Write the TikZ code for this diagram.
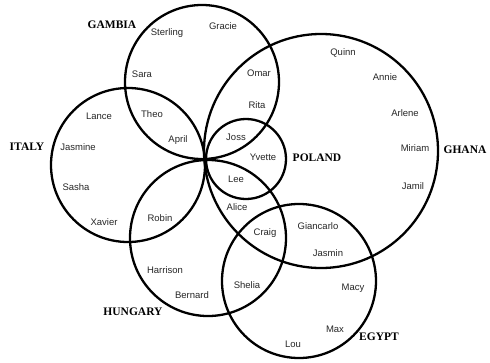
\documentclass[tikz,border=0pt]{standalone}
\usepackage{fontspec}
\setmainfont{Liberation Sans}
\newfontfamily\landfont{Liberation Serif}
\usetikzlibrary{positioning}

\tikzset{
  ring/.style={draw=black, line width=2.3pt},
  person/.style={inner sep=0pt, text=black!85, font=\fontsize{9.5}{11}\selectfont},
  land/.style={inner sep=0pt, font=\landfont\bfseries\fontsize{11.5}{13}\selectfont}
}

\begin{document}
\begin{tikzpicture}[x=1pt,y=-1pt]
\useasboundingbox (0,0) rectangle (490,362);
% circle centres
\coordinate (gambia) at (202,82);
\coordinate (italy) at (128,165);
\coordinate (hungary) at (208,238);
\coordinate (poland) at (246,159);
\coordinate (ghana) at (321,151);
\coordinate (egypt) at (299,281);
\draw[ring] (gambia) circle[radius=77pt];
\draw[ring] (italy) circle[radius=77pt];
\draw[ring] (hungary) circle[radius=78pt];
\draw[ring] (poland) circle[radius=40pt];
\draw[ring] (ghana) circle[radius=117pt];
\draw[ring] (egypt) circle[radius=77pt];
% countries
\node[land] (lgambia) at (112,25) {GAMBIA};
\node[land] (litaly) at (27,147) {ITALY};
\node[land] (lhungary) at (133,312) {HUNGARY};
\node[land] (lpoland) at (317,158) {POLAND};
\node[land] (lghana) at (465,150) {GHANA};
\node[land] (legypt) at (379,337) {EGYPT};
% people
\node[person] (sterling) at (167,33) {Sterling};
\node[person] (gracie) at (223,26) {Gracie};
\node[person] (sara) at (142,74) {Sara};
\node[person] (omar) at (259,73) {Omar};
\node[person] (rita) at (257,105) {Rita};
\node[person] (theo) at (152,114) {Theo};
\node[person] (april) at (178,140) {April};
\node[person] (lance) at (99,116) {Lance};
\node[person] (jasmine) at (78,147) {Jasmine};
\node[person] (sasha) at (76,187) {Sasha};
\node[person] (xavier) at (104,222) {Xavier};
\node[person] (robin) at (160,218) {Robin};
\node[person] (harrison) at (165,270) {Harrison};
\node[person] (bernard) at (192,295) {Bernard};
\node[person] (joss) at (236,137) {Joss};
\node[person] (yvette) at (263,157) {Yvette};
\node[person] (lee) at (236,179) {Lee};
\node[person] (alice) at (237,207) {Alice};
\node[person] (craig) at (265,233) {Craig};
\node[person] (giancarlo) at (318,226) {Giancarlo};
\node[person] (jasmin) at (328,253) {Jasmin};
\node[person] (shelia) at (247,285) {Shelia};
\node[person] (macy) at (353,288) {Macy};
\node[person] (max) at (335,329) {Max};
\node[person] (lou) at (293,344) {Lou};
\node[person] (quinn) at (343,53) {Quinn};
\node[person] (annie) at (385,77) {Annie};
\node[person] (arlene) at (405,113) {Arlene};
\node[person] (miriam) at (415,148) {Miriam};
\node[person] (jamil) at (413,186) {Jamil};
\end{tikzpicture}
\end{document}
